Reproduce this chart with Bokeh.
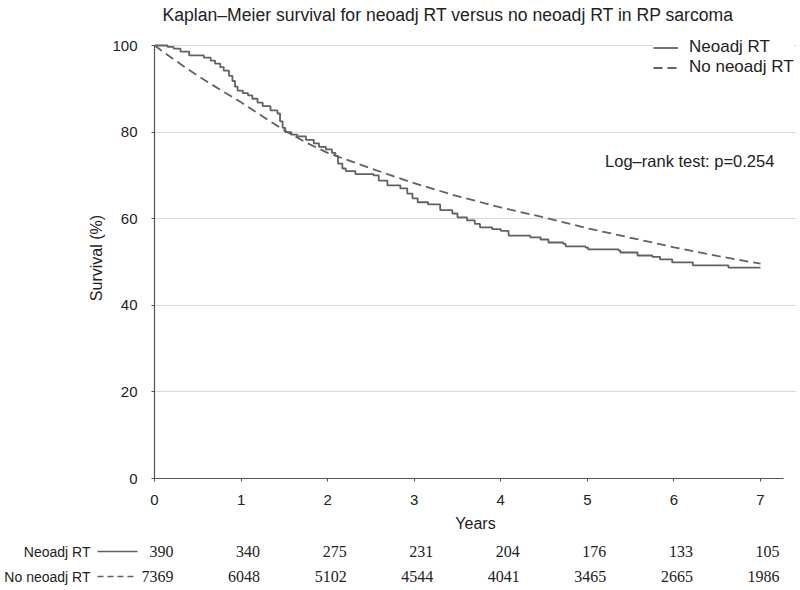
from bokeh.plotting import figure
from bokeh.layouts import column
from bokeh.models import (Range1d, FixedTicker, Legend, LegendItem, Label, LabelSet,
                          ColumnDataSource, Arrow)
from bokeh.embed import file_html
from bokeh.resources import INLINE

title_text = "Kaplan\u2013Meier survival for neoadj RT versus no neoadj RT in RP sarcoma"
series_names = ["Neoadj RT", "No neoadj RT"]

neo_t = [0, 0.15, 0.22, 0.3, 0.4, 0.57, 0.65, 0.7, 0.76, 0.8, 0.86, 0.9, 0.93, 0.96, 1.02,
         1.08, 1.13, 1.19, 1.25, 1.34, 1.42, 1.45, 1.48, 1.51, 1.58, 1.65, 1.75, 1.84, 1.9,
         1.98, 2.05, 2.09, 2.12, 2.17, 2.21, 2.32, 2.53, 2.59, 2.69, 2.84, 2.92, 2.98, 3.04,
         3.16, 3.30, 3.44, 3.50, 3.61, 3.70, 3.76, 3.9, 4.0, 4.09, 4.34, 4.46, 4.55, 4.72,
         4.75, 4.98, 5.01, 5.36, 5.38, 5.58, 5.75, 5.84, 5.98, 6.22, 6.63, 7.0]
neo_s = [100, 99.7, 99.3, 98.6, 97.7, 97.2, 96.5, 95.8, 95.0, 94.2, 93.0, 91.8, 90.5, 89.6, 89.0,
         88.5, 87.7, 86.8, 86.0, 85.0, 84.3, 82.5, 81.0, 80.0, 79.4, 79.0, 78.2, 77.4, 76.6,
         76.0, 75.2, 74.5, 72.7, 71.6, 71.0, 70.3, 70.0, 68.8, 67.7, 67.0, 65.8, 64.7, 63.8,
         63.3, 62.0, 61.2, 60.3, 59.6, 58.8, 58.0, 57.6, 57.2, 56.1, 55.7, 55.2, 54.5, 54.2,
         53.6, 53.3, 52.9, 52.7, 52.2, 51.5, 51.2, 50.6, 49.9, 49.2, 48.7, 48.7]

no_t = [0, 0.25, 0.5, 0.75, 1.0, 1.25, 1.5, 1.75, 2.0, 2.5, 3.0, 3.5, 4.0, 4.5, 5.0, 5.5,
        6.0, 6.5, 7.0]
no_s = [100, 96.4, 93.0, 89.9, 86.9, 83.6, 80.4, 77.6, 75.2, 71.6, 68.2, 65.2, 62.6, 60.3,
        57.8, 55.6, 53.4, 51.4, 49.6]

year_ticks = [0, 1, 2, 3, 4, 5, 6, 7]
surv_ticks = [0, 20, 40, 60, 80, 100]
risk_neo = [390, 340, 275, 231, 204, 176, 133, 105]
risk_no = [7369, 6048, 5102, 4544, 4041, 3465, 2665, 1986]

FONT = "Liberation Sans"
TXT = "#222222"
LINE = "#616161"
AX = "#555555"

W = 800
TITLE_H = 37
MAIN_H = 501
TAB_H = 52
LEFT = 154
RIGHT_PAD = 4
X_END = 7.416
Y_END = 101.85


def strip(height, x_range):
    s = figure(width=W, height=height, output_backend="svg", toolbar_location=None,
               x_range=x_range, y_range=Range1d(0, height),
               min_border_left=0, min_border_right=0, min_border_top=0, min_border_bottom=0)
    s.frame_align = False
    s.axis.visible = False
    s.grid.visible = False
    s.outline_line_color = None
    return s


# title strip
k = (W - LEFT - RIGHT_PAD) / X_END
head = strip(TITLE_H, Range1d(0, W))
head.add_layout(Label(x=162, y=TITLE_H - 14, x_units="screen", y_units="screen",
                      text=title_text, text_align="left", text_baseline="middle",
                      text_font=FONT, text_font_size="17.6px", text_color=TXT))

p = figure(width=W, height=MAIN_H, output_backend="svg", toolbar_location=None,
           x_range=Range1d(0, X_END), y_range=Range1d(0, Y_END),
           min_border_left=LEFT, min_border_right=RIGHT_PAD, min_border_top=0,
           min_border_bottom=60)
p.outline_line_color = None
p.background_fill_color = "white"

r_neo = p.step(neo_t, neo_s, mode="after", line_color=LINE, line_width=1.8)
r_no = p.line(no_t, no_s, line_color=LINE, line_width=1.8, line_dash="9 5")

p.xgrid.visible = False
p.ygrid.grid_line_color = "#d9d9d9"
p.ygrid.grid_line_width = 1.2
p.ygrid.bounds = (0, 7.29)

p.xaxis.ticker = FixedTicker(ticks=year_ticks)
p.yaxis.ticker = FixedTicker(ticks=surv_ticks)
for ax in (p.xaxis[0], p.yaxis[0]):
    ax.axis_line_color = AX
    ax.axis_line_width = 1.2
    ax.major_tick_line_color = AX
    ax.major_tick_in = 0
    ax.major_tick_out = 3
    ax.minor_tick_line_color = None
    ax.major_label_text_font = FONT
    ax.major_label_text_font_size = "15px"
    ax.major_label_text_color = TXT
    ax.axis_label_text_font = FONT
    ax.axis_label_text_font_size = "16px"
    ax.axis_label_text_font_style = "normal"
    ax.axis_label_text_color = TXT
p.xaxis.bounds = (0, 7.27)
p.yaxis.bounds = (0, 100)
p.xaxis.axis_label = "Years"
p.yaxis.axis_label = "Survival (%)"
p.xaxis.major_label_standoff = 13
p.xaxis.axis_label_standoff = 7
p.yaxis.major_label_standoff = 14
p.yaxis.axis_label_standoff = 4

legend = Legend(items=[LegendItem(label=series_names[0], renderers=[r_neo]),
                       LegendItem(label=series_names[1], renderers=[r_no])],
                location=(499, 401), padding=0, margin=0, spacing=0,
                glyph_width=25, glyph_height=19, label_height=19, label_standoff=11,
                border_line_color=None, background_fill_color="white", background_fill_alpha=1,
                label_text_font=FONT, label_text_font_size="17px", label_text_color=TXT)
p.add_layout(legend)

p.add_layout(Label(x=5.205, y=73.4, text="Log\u2013rank test: p=0.254", text_baseline="middle",
                   text_font=FONT, text_font_size="16.5px", text_color=TXT))

# number-at-risk table, a strip whose x scale matches the main plot
t = strip(TAB_H, Range1d(-LEFT / k, (W - LEFT) / k))
row_y = [39, 14]
for name, yy, counts, dash in zip(series_names, row_y, [risk_neo, risk_no], ["solid", "6 4"]):
    t.add_layout(Label(x=90, y=yy, x_units="screen", y_units="screen", text=name,
                       text_align="right", text_baseline="middle",
                       text_font=FONT, text_font_size="14px", text_color=TXT))
    t.add_layout(Arrow(end=None, x_start=97, y_start=yy, x_end=137, y_end=yy,
                       start_units="screen", end_units="screen",
                       line_color=LINE, line_width=1.3, line_dash=dash))
    src = ColumnDataSource(dict(x=year_ticks, y=[yy] * len(year_ticks),
                                t=[str(c) for c in counts]))
    t.add_layout(LabelSet(x="x", y="y", text="t", source=src, x_units="data", y_units="screen",
                          x_offset=19, text_align="right", text_baseline="middle",
                          text_font=FONT, text_font_size="16px", text_color=TXT))

layout = column(head, p, t, spacing=0)
open("out.html", "w").write(file_html(layout, INLINE))
